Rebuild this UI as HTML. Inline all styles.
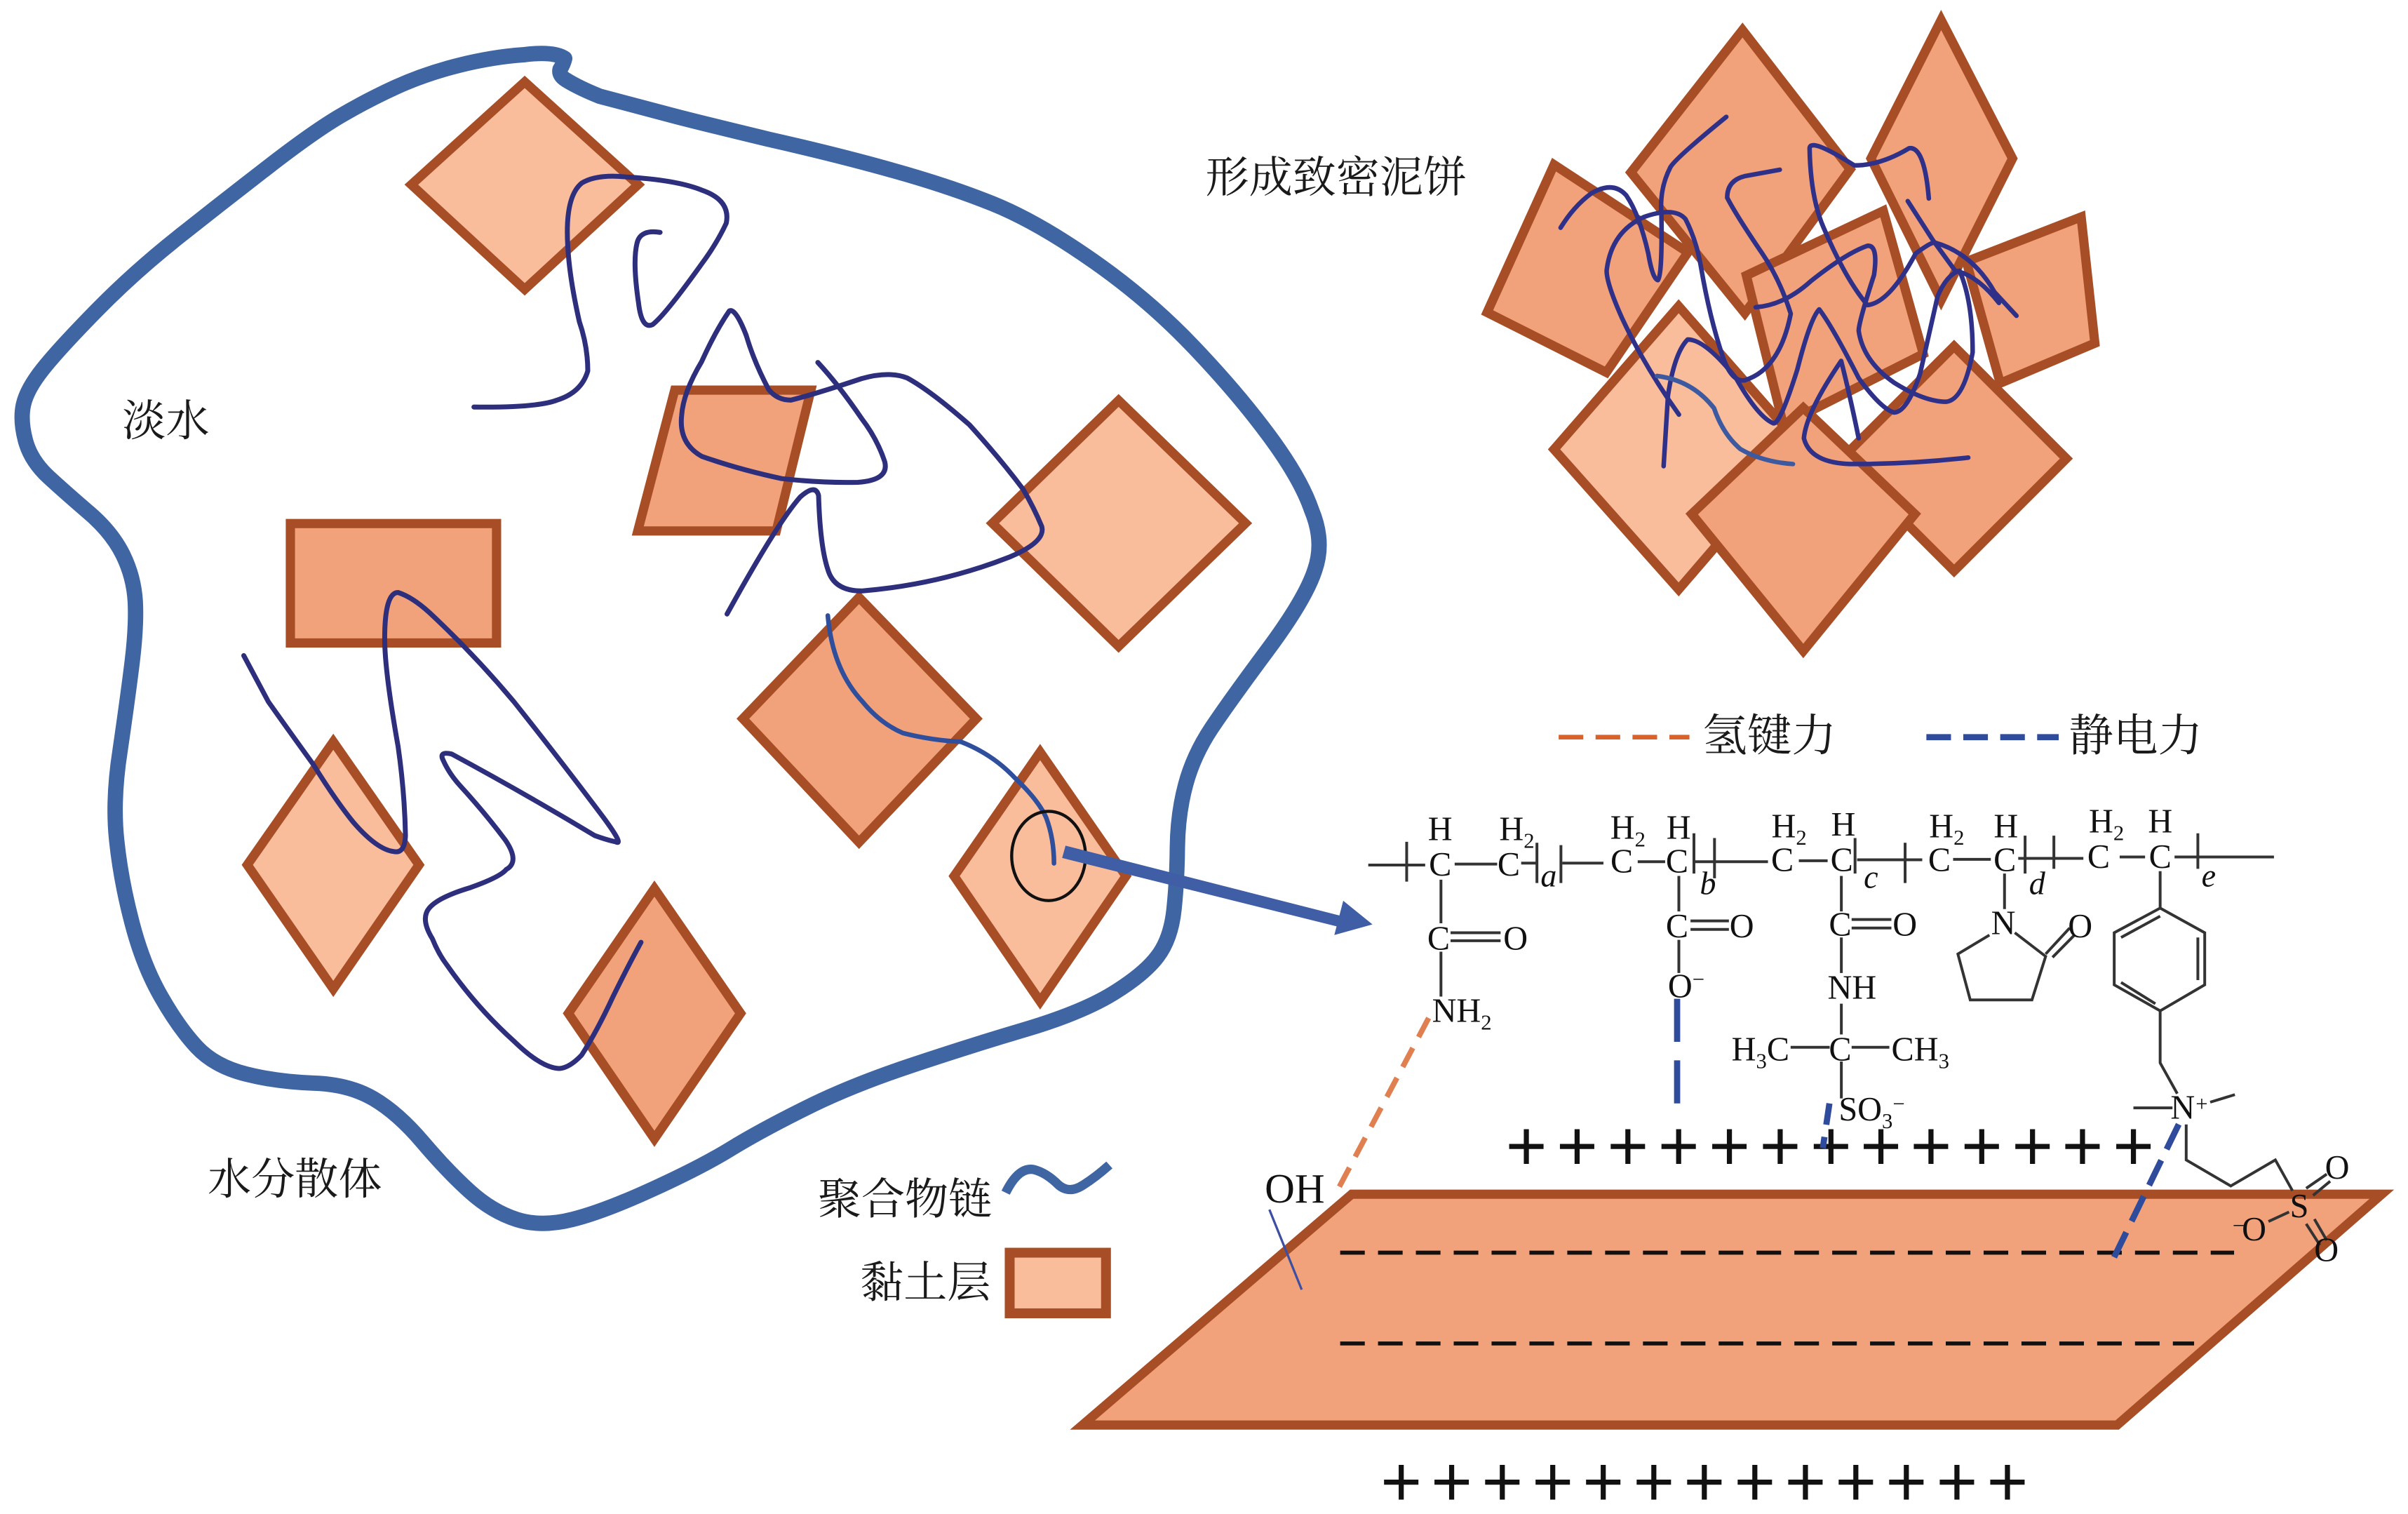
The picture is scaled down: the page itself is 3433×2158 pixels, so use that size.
<!DOCTYPE html>
<html>
<head>
<meta charset="utf-8">
<style>
html,body{margin:0;padding:0;background:#fff;}
svg{display:block;}
.zh{font-family:"Liberation Serif","Noto Serif CJK SC",serif;font-size:28.3px;font-weight:400;fill:#1a1a1a;}
.c{font-family:"Liberation Serif",serif;font-size:22px;fill:#111;}
.m{text-anchor:middle;}
.i{font-style:italic;font-size:21px;}
.p{font-family:"Liberation Sans",sans-serif;font-size:46px;fill:#111;text-anchor:middle;}
.lt{fill:#f9bd9c;stroke:#a84e26;stroke-width:6;stroke-linejoin:miter;}
.dk{fill:#f2a27a;stroke:#a84e26;stroke-width:6;stroke-linejoin:miter;}
.ch{fill:none;stroke:#2e2f7c;stroke-width:3.2;stroke-linecap:round;stroke-linejoin:round;}
.cl path{fill:none;stroke:#2f3189;stroke-width:6.5;stroke-linecap:round;stroke-linejoin:round;vector-effect:non-scaling-stroke;}
.bd path{fill:none;stroke:#333;stroke-width:4;vector-effect:non-scaling-stroke;}
</style>
</head>
<body>
<svg xmlns="http://www.w3.org/2000/svg" width="3433" height="2158" viewBox="0 0 1565 983.8">
<rect x="0" y="0" width="1565" height="984" fill="#fff"/>

<!-- Water dispersion boundary -->
<path fill="none" stroke="#3f66a3" stroke-width="10" stroke-linejoin="round" stroke-linecap="round" d="M389.6 62.5 Q421.5 71 438.7 75.5 Q456 80 499.5 90.5 Q543 100.3 579.4 110.5 Q615.8 120.6 645 132.3 Q674 144 710.3 169.4 Q746.6 194.8 775.6 225.3 Q804.7 255.8 825 283.4 Q845.4 311 852.4 331.4 Q861 352 854.5 370.5 Q848.3 389.5 823.6 422.7 Q799 455.8 787.3 473.3 Q775.7 490.8 770.6 509.7 Q765.5 528.6 765.2 550.3 Q765 572 763 591 Q761 610 752.3 621.5 Q743.7 633 723.4 645.5 Q703 658 666.5 668.9 Q630 679.7 590.9 692.8 Q551.8 705.9 522.8 720.5 Q493.7 735 474.8 746.6 Q455.9 758.2 424.2 772.7 Q392.4 787.3 372 792.4 Q351.8 797.5 335.8 792.4 Q319.8 787.3 305.3 774.2 Q290.7 761 274.7 742.2 Q258.7 723.3 242.7 713.9 Q226.7 704.5 203.4 703.8 Q180 703 159.8 697.9 Q139.5 692.8 127.9 680.4 Q116.3 668 104.7 647.7 Q93 627.4 85.8 599.7 Q78.5 572 75.8 546 Q73 519.9 78 487.9 Q83 453.5 85.9 430 Q88.7 407 87.9 391 Q87 375 79.9 360.5 Q72.7 346 58.2 333.5 Q43.6 321 31.8 310.2 Q20 299.4 16.5 286.2 Q13 273 15.2 263 Q17.4 253 27.7 240 Q38 227 62.5 202 Q87 177 116 154 Q145 131 174.3 108.4 Q203.5 85.8 220.8 75.6 Q238 65.4 257 56.7 Q276 48 298 42.5 Q320 37 340 35.6 Q360 33 367 38 Q366 42 364 45 Q363 49 368 52 Q376 57 389.6 62.5"/>

<!-- Clay layers, dispersed -->
<polygon class="lt" points="341,53.2 414.7,120 341,188 267.3,120"/>
<polygon class="dk" points="438.5,253.5 527,253.5 504.5,345 414.5,345"/>
<polygon class="lt" points="727,260.2 809.5,340 727,420 645,340"/>
<rect class="dk" x="188.7" y="340.2" width="134" height="77.6"/>
<polygon class="dk" points="558.3,388.2 634.5,467 558.3,547.3 482.8,467"/>
<polygon class="lt" points="676,488.7 731.8,569.3 676,650.7 620.1,569.3"/>
<polygon class="lt" points="216.6,482 272.3,562 216.6,642.6 160.7,562"/>
<polygon class="dk" points="425.3,577.4 481.3,658.5 425.3,740 369.4,658.5"/>

<!-- Polymer chains, dispersed -->
<path class="ch" d="M308 264.5 Q349 265 362 260 Q378 255 382 241 Q382 225 376.5 209 Q370 180 369 160 Q367 128 378 119 Q388 113 407 115 Q440 117 456 123.5 Q475 130 472 145 Q466 158 456 171.5 Q432 205 424 211 Q417 214 415 197 Q411 170 414 158 Q416 149 429 151"/>
<path class="ch" d="M472.5 399 Q505 340 520 323 Q530 314 532 322 Q533 355 538 370 Q542 384 560 384 Q610 380 656 362 Q680 352 677 342 Q672 330 665 318 Q650 298 630 276 Q605 254 589.6 245.6 Q578 241 560 246 Q530 256 514 260 Q505 260 499.5 253 Q490 235 485 218 Q478 200 474 202 Q465 215 456 235 Q444 255 443 270 Q441 288 456 296.5 Q480 305 508 311 Q535 314 557.6 313.4 Q578 312 575 300 Q570 285 560 272 Q545 250 531.5 235.5"/>
<path class="ch" d="M158.4 426 L174.4 456 Q190 478 203.5 496.6 Q218 520 229.7 534.4 Q245 552 255.8 553.3 Q263 555 263.5 543 Q263 515 258.7 485 Q250 436 250 415 Q250 385 258.7 385 Q268 388 279 398 Q308 425 334 456 Q365 495 392.4 531.5 Q406 550 400 547 Q395 546 386.6 543 Q340 515 293.6 490 Q285 488 288 494 Q292 503 299.4 511 Q315 528 328.5 546 Q338 560 329 565 Q325 570 305 577 Q285 583 279 590 Q273 597 281 610 Q285 620 290.7 627.4 Q310 655 334.3 676.8 Q352 694 363.4 694.3 Q370 694 378 685.6 Q388 670 398.3 647.8 Q408 628 416.6 612.3"/>
<path class="ch" style="stroke:#2f4f9c;stroke-width:3" d="M538 400 Q541 435 560.6 456 Q572 470 586.7 476.3 Q605 481 624.5 482 Q645 490 659.4 505.3 Q675 520 680 531.5 Q685 545 685 561"/>
<ellipse cx="681.5" cy="556.2" rx="24" ry="29" fill="none" stroke="#111" stroke-width="2"/>

<!-- Arrow -->
<polygon points="692.5,549.5 690.3,557.5 869,602 871,595" fill="#3f5ea6"/>
<polygon points="892,600.7 873,585.3 867.2,607.6" fill="#3f5ea6"/>

<!-- Compact cake -->
<g>
<polygon class="dk" points="1132.5,19.5 1202.5,110 1134,203.5 1060,112"/>
<polygon class="dk" points="1010,107 966.5,203 1044,242 1097,164"/>
<polygon class="dk" points="1261.6,13 1308,103 1261.6,195 1216,103"/>
<polygon class="dk" points="1352.6,141 1361.5,223 1300,249 1278,170"/>
<polygon class="dk" points="1224,137 1250,230 1159,276 1135,179"/>
<polygon class="lt" points="1091,199 1171,290 1091,383 1010,292"/>
<polygon class="dk" points="1270,225 1343,298 1270,371 1197,298"/>
<polygon class="dk" points="1172,265 1244.5,334 1172,423 1099.5,334"/>
</g>
<g class="cl" transform="translate(934.5,0) scale(0.2849,0.2792)">
<path d="M658 272 Q540 370 530 390 Q505 440 510 500 Q512 640 502 652 Q490 650 480 590 Q460 500 430 455 Q400 420 350 450 Q310 480 280 530"/>
<path d="M550 965 Q470 850 420 740 Q385 660 385 630 Q395 540 470 505 Q540 480 565 510 Q590 560 600 620 Q620 740 650 830 Q670 890 700 885 Q780 860 805 730 Q780 650 740 590 Q680 500 660 460 Q660 420 700 410 L780 395"/>
<path d="M725 715 Q790 710 850 655 Q930 590 980 572 Q1005 570 995 640 Q960 750 960 770 Q970 840 1040 890 Q1110 935 1160 935 Q1200 930 1220 820 Q1220 700 1190 630 Q1160 640 1140 690 Q1120 780 1100 870 Q1070 960 1040 960 Q1010 950 960 880 Q900 760 870 720 Q850 740 820 860 Q780 990 765 985 Q730 970 680 880 Q610 790 570 790 Q540 820 525 920 L515 1085"/>
<path d="M1120 462 Q1110 340 1075 345 Q1010 385 950 385 Q850 320 848 345 Q850 460 880 530 Q930 650 980 710 Q1030 705 1090 590 Q1130 560 1135 565 Q1220 590 1270 680 L1320 735"/>
<path d="M1072 468 L1130 560 L1180 630 Q1230 640 1280 705"/>
<path style="stroke:#3d5aa0" d="M500 875 Q580 885 630 950 Q650 1010 690 1045 Q740 1075 810 1080"/>
<path d="M960 1020 Q940 920 920 840 Q840 960 835 1020 Q850 1080 950 1080 Q1080 1080 1210 1065"/>
</g>

<!-- Chinese labels -->
<text class="zh" x="783.5" y="125">形成致密泥饼</text>
<text class="zh" x="79.5" y="283">淡水</text>
<text class="zh" x="135" y="776">水分散体</text>
<text class="zh" x="531.5" y="789">聚合物链</text>
<text class="zh" x="559" y="843">黏土层</text>
<text class="zh" x="1106.5" y="488" style="font-size:29px">氢键力</text>
<text class="zh" x="1344.5" y="488" style="font-size:29px">静电力</text>

<!-- Legends -->
<path d="M653.6 775 Q662 758 672 760 Q680 762 688 770 Q695 776 704 770 Q712 765 721 757" fill="none" stroke="#3f66a3" stroke-width="6"/>
<rect x="656.2" y="814" width="62.6" height="39.4" fill="#f9bd9c" stroke="#a84e26" stroke-width="6.4"/>
<path d="M1013 479 H1098" stroke="#d9622b" stroke-width="3" stroke-dasharray="16 8" fill="none"/>
<path d="M1252 479 H1338" stroke="#2f4b9c" stroke-width="4" stroke-dasharray="16 8" fill="none"/>

<!-- Large clay layer -->
<polygon points="878.5,776 1548,776 1376,926 703.5,926" fill="#f2a27a" stroke="#a84e26" stroke-width="6"/>
<path d="M871 814 H1452 M871 873 H1426" stroke="#111" stroke-width="2.6" stroke-dasharray="16 8.6" fill="none"/>

<!-- Plus rows -->
<text class="p" y="760.5" x="992 1025 1058 1091 1124 1157 1190 1222.5 1255 1288 1321 1353.5 1386.6">+++++++++++++</text>
<text class="p" y="978.5" x="910.7 943.5 976.4 1009.2 1042 1074.9 1107.7 1140.5 1173.4 1206.2 1239 1271.9 1304.7">+++++++++++++</text>

<!-- Bonds -->
<g class="bd" transform="translate(866.1,501.5) scale(0.4456,0.3076)">
<path d="M52 197 H135 M178 195 H240 M275 193 H298 M335 193 H395 M445 190 H485 M525 190 H635 M680 188 H722 M765 186 H860 M905 185 H960 M1000 183 H1095 M1148 180 H1185 M1228 180 H1373"/>
<path d="M108 148 V232 M298 150 V235 M333 155 V235 M527 130 V215 M557 140 V225 M762 140 V215 M835 150 V235 M1010 135 V215 M1052 135 V205 M1262 130 V205"/>
<path d="M158 228 V320 M172 340 H245 M172 357 H245 M158 380 V475"/>
<path d="M505 220 V295 M522 315 H578 M522 333 H578 M505 355 V425"/>
<path d="M742 220 V295 M757 312 H815 M757 330 H815 M742 350 V425 M742 490 V555 M668 582 H725 M757 582 H812 M742 612 V690"/>
<path d="M980 215 V290 M958 345 L912 385 L930 482 L1020 482 L1040 390 L995 340 M1040 385 L1075 330 M1050 392 L1082 345"/>
<path d="M1207 210 V288 M1207 288 L1272 340 V450 L1207 505 L1140 450 V340 Z M1207 305 L1150 350 M1262 350 V440 M1150 445 L1200 490"/>
<path d="M1207 505 V615 L1232 680 M1168 710 H1225 M1280 698 L1316 682 M1245 745 V820 L1310 875 L1375 820 L1400 885 M1420 880 L1450 850 M1430 895 L1455 865 M1420 955 L1440 1000 M1432 945 L1450 990 M1365 950 L1395 930"/>
</g>

<!-- Chemical labels -->
<g class="c">
<text class="m" x="936" y="546">H</text>
<text x="974.4" y="546">H<tspan font-size="14" dy="5">2</tspan></text>
<text class="m" x="936" y="569">C</text>
<text class="m" x="980.6" y="569">C</text>
<text class="m i" x="1006.5" y="576">a</text>

<text x="1046.6" y="545">H<tspan font-size="14" dy="5">2</tspan></text>
<text class="m" x="1091" y="545">H</text>
<text class="m" x="1054" y="567">C</text>
<text class="m" x="1090" y="567">C</text>
<text class="m i" x="1110" y="581">b</text>

<text x="1151.3" y="544">H<tspan font-size="14" dy="5">2</tspan></text>
<text class="m" x="1198" y="543">H</text>
<text class="m" x="1158.4" y="566">C</text>
<text class="m" x="1197" y="566">C</text>
<text class="m i" x="1216" y="577">c</text>

<text x="1253.8" y="544">H<tspan font-size="14" dy="5">2</tspan></text>
<text class="m" x="1303.7" y="544">H</text>
<text class="m" x="1260.5" y="566">C</text>
<text class="m" x="1303" y="566">C</text>
<text class="m i" x="1324" y="581">d</text>

<text x="1357.6" y="541">H<tspan font-size="14" dy="5">2</tspan></text>
<text class="m" x="1404" y="541">H</text>
<text class="m" x="1364" y="564">C</text>
<text class="m" x="1404" y="564">C</text>
<text class="m i" x="1435.5" y="576">e</text>

<text class="m" x="935" y="617">C</text>
<text class="m" x="985" y="617">O</text>
<text class="m" x="1090" y="609">C</text>
<text class="m" x="1132" y="609">O</text>
<text class="m" x="1196" y="608">C</text>
<text class="m" x="1238" y="608">O</text>

<text x="930.7" y="664">NH<tspan font-size="14" dy="5">2</tspan></text>
<text x="1084" y="648">O<tspan font-size="14" dy="-7">−</tspan></text>
<text x="1187.8" y="649">NH</text>
<text x="1125.4" y="689">H<tspan font-size="14" dy="5">3</tspan><tspan dy="-5">C</tspan></text>
<text class="m" x="1196" y="689">C</text>
<text x="1229.3" y="689">CH<tspan font-size="14" dy="5">3</tspan></text>
<text x="1195" y="728">SO<tspan font-size="14" dy="5">3</tspan><tspan font-size="14" dy="-11">−</tspan></text>

<text class="m" x="1302" y="607">N</text>
<text class="m" x="1352" y="609">O</text>

<text class="m" x="1418.6" y="727">N</text>
<text x="1427" y="722" font-size="14">+</text>
<text class="m" x="1494.4" y="791">S</text>
<text class="m" x="1519" y="766">O</text>
<text class="m" x="1512" y="819.5">O</text>
<text class="m" x="1465" y="806">O</text>
<text x="1451" y="801" font-size="14">−</text>
<text x="822" y="781.5" style="font-size:27px">OH</text>
</g>

<!-- Interaction dashes -->
<path d="M928.5 661.5 L870 772" stroke="#e08050" stroke-width="3.5" stroke-dasharray="14 8" fill="none"/>
<path d="M1090 649 V722" stroke="#2f4b9c" stroke-width="4" stroke-dasharray="28 12" fill="none"/>
<path d="M1189 717 L1184.7 746" stroke="#2f4b9c" stroke-width="4" stroke-dasharray="14 8" fill="none"/>
<path d="M1416 730.6 L1374 817" stroke="#2f4b9c" stroke-width="4" stroke-dasharray="18 8" fill="none"/>
<path d="M825 786 L846 838" stroke="#3c4fa0" stroke-width="1.5" fill="none"/>
</svg>
</body>
</html>
